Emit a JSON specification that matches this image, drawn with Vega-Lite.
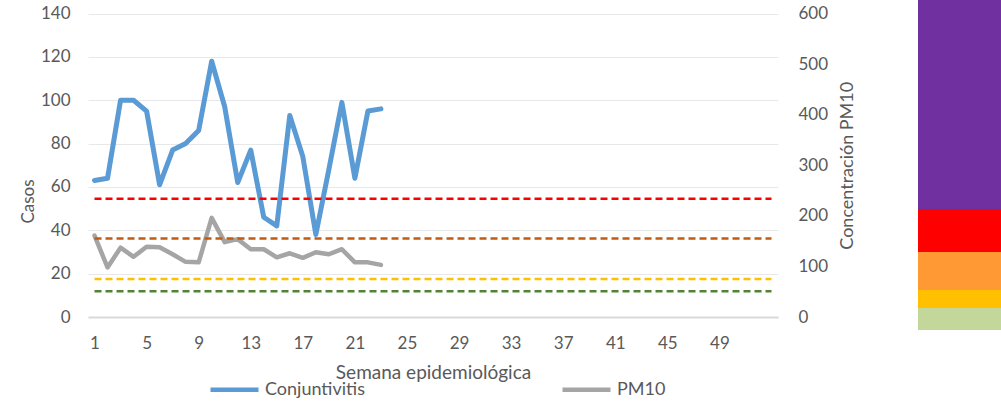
{
  "$schema": "https://vega.github.io/schema/vega-lite/v6.json",
  "padding": {"left": 19, "top": 0, "right": 0, "bottom": 0},
  "background": "white",
  "config": {
    "font": "Lato",
    "view": {"stroke": null},
    "axis": {"labelColor": "#595959", "titleColor": "#595959", "labelFont": "Lato", "titleFont": "Lato", "labelFontSize": 17, "titleFontSize": 17, "titleFontWeight": "normal", "domain": false, "ticks": false, "grid": false}
  },
  "datasets": {
    "casos": [
      {"semana": 1, "casos": 63}, {"semana": 2, "casos": 64}, {"semana": 3, "casos": 100}, {"semana": 4, "casos": 100},
      {"semana": 5, "casos": 95}, {"semana": 6, "casos": 61}, {"semana": 7, "casos": 77}, {"semana": 8, "casos": 80},
      {"semana": 9, "casos": 86}, {"semana": 10, "casos": 118}, {"semana": 11, "casos": 97}, {"semana": 12, "casos": 62},
      {"semana": 13, "casos": 77}, {"semana": 14, "casos": 46}, {"semana": 15, "casos": 42}, {"semana": 16, "casos": 93},
      {"semana": 17, "casos": 74}, {"semana": 18, "casos": 38}, {"semana": 19, "casos": 68}, {"semana": 20, "casos": 99},
      {"semana": 21, "casos": 64}, {"semana": 22, "casos": 95}, {"semana": 23, "casos": 96}
    ],
    "pm10": [
      {"semana": 1, "pm10": 161}, {"semana": 2, "pm10": 98}, {"semana": 3, "pm10": 137}, {"semana": 4, "pm10": 119},
      {"semana": 5, "pm10": 139}, {"semana": 6, "pm10": 138}, {"semana": 7, "pm10": 124}, {"semana": 8, "pm10": 109},
      {"semana": 9, "pm10": 108}, {"semana": 10, "pm10": 196}, {"semana": 11, "pm10": 148}, {"semana": 12, "pm10": 154},
      {"semana": 13, "pm10": 134}, {"semana": 14, "pm10": 134}, {"semana": 15, "pm10": 118}, {"semana": 16, "pm10": 126},
      {"semana": 17, "pm10": 117}, {"semana": 18, "pm10": 128}, {"semana": 19, "pm10": 124}, {"semana": 20, "pm10": 134},
      {"semana": 21, "pm10": 108}, {"semana": 22, "pm10": 108}, {"semana": 23, "pm10": 103}
    ],
    "umbrales": [
      {"nivel": "Dañina", "valor": 234, "desde": 1, "hasta": 53},
      {"nivel": "Dañina grupos sensibles", "valor": 155, "desde": 1, "hasta": 53},
      {"nivel": "Aceptable", "valor": 75, "desde": 1, "hasta": 53},
      {"nivel": "Buena", "valor": 51, "desde": 1, "hasta": 53}
    ],
    "barra": [
      {"columna": "ICA", "nivel": "Buena", "desde": 0, "hasta": 22},
      {"columna": "ICA", "nivel": "Aceptable", "desde": 22, "hasta": 40},
      {"columna": "ICA", "nivel": "Dañina grupos sensibles", "desde": 40, "hasta": 78},
      {"columna": "ICA", "nivel": "Dañina", "desde": 78, "hasta": 121},
      {"columna": "ICA", "nivel": "Muy dañina", "desde": 121, "hasta": 330}
    ]
  },
  "spacing": 61,
  "hconcat": [
    {
      "width": 690,
      "height": 317,
      "layer": [
        {
          "data": {"name": "casos"},
          "mark": {"type": "line", "strokeWidth": 5, "strokeJoin": "round", "strokeCap": "round"},
          "encoding": {
            "x": {"field": "semana", "type": "quantitative",
              "scale": {"domain": [0.5, 53.5], "nice": false, "zero": false},
              "axis": {"values": [1, 5, 9, 13, 17, 21, 25, 29, 33, 37, 41, 45, 49], "domain": true, "domainColor": "#D9D9D9", "domainWidth": 2, "labelPadding": 18, "title": "Semana epidemiológica", "titleFontSize": 19, "titlePadding": 12}},
            "y": {"field": "casos", "type": "quantitative",
              "scale": {"domain": [0, 140], "range": [317, 13.5], "nice": false},
              "axis": {"orient": "left", "values": [0, 20, 40, 60, 80, 100, 120, 140], "grid": true, "gridColor": "#E8E8E8", "gridWidth": 1, "title": "Casos", "labelPadding": 18, "titlePadding": 3, "titleY": 201}},
            "color": {"datum": "Conjuntivitis", "type": "nominal",
              "scale": {"domain": ["Conjuntivitis", "PM10"], "range": ["#5B9BD5", "#A5A5A5"]},
              "legend": {"title": null, "orient": "none", "legendX": 120, "legendY": 363, "direction": "horizontal", "symbolType": "stroke", "symbolSize": 2304, "symbolStrokeWidth": 4.5, "labelFontSize": 18, "labelFont": "Lato", "labelColor": "#595959", "columnPadding": 188, "labelOffset": 4, "padding": 0}}
          }
        },
        {
          "layer": [
            {
              "data": {"name": "pm10"},
              "mark": {"type": "line", "strokeWidth": 4.5, "strokeJoin": "round", "strokeCap": "round"},
              "encoding": {
                "x": {"field": "semana", "type": "quantitative"},
                "y": {"field": "pm10", "type": "quantitative",
                  "scale": {"domain": [0, 600], "range": [317, 13.5], "nice": false},
                  "axis": {"orient": "right", "values": [0, 100, 200, 300, 400, 500, 600], "title": "Concentración PM10", "titleFontSize": 18, "labelPadding": 20, "titlePadding": 11, "titleAngle": -90, "titleBaseline": "top"}},
                "color": {"datum": "PM10", "type": "nominal"}
              }
            },
            {
              "data": {"name": "umbrales"},
              "mark": {"type": "rule", "strokeDash": [7, 4], "strokeWidth": 2.5},
              "encoding": {
                "x": {"field": "desde", "type": "quantitative"},
                "x2": {"field": "hasta"},
                "y": {"field": "valor", "type": "quantitative"},
                "stroke": {"field": "nivel", "type": "nominal",
                  "scale": {"domain": ["Dañina", "Dañina grupos sensibles", "Aceptable", "Buena"], "range": ["#FF0000", "#C55A11", "#FFC000", "#548235"]},
                  "legend": null}
              }
            }
          ]
        }
      ],
      "resolve": {"scale": {"y": "independent"}}
    },
    {
      "width": 84,
      "height": 330,
      "data": {"name": "barra"},
      "mark": {"type": "rect"},
      "encoding": {
        "x": {"field": "columna", "type": "nominal", "scale": {"paddingInner": 0, "paddingOuter": 0}, "axis": null},
        "y": {"field": "desde", "type": "quantitative", "scale": {"domain": [0, 330], "nice": false}, "axis": null},
        "y2": {"field": "hasta"},
        "fill": {"field": "nivel", "type": "nominal",
          "scale": {"domain": ["Buena", "Aceptable", "Dañina grupos sensibles", "Dañina", "Muy dañina"], "range": ["#C4D79B", "#FFC000", "#FF9933", "#FF0000", "#7030A0"]},
          "legend": null}
      }
    }
  ]
}
